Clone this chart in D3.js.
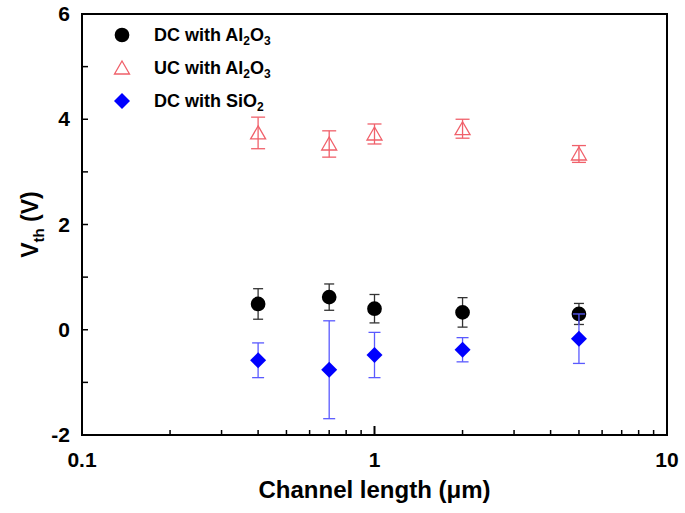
<!DOCTYPE html>
<html>
<head>
<meta charset="utf-8">
<script src="https://cdn.jsdelivr.net/npm/d3@7"></script>
<style>
  body { margin: 0; background: #fff; }
  text { font-family: "Liberation Sans", Arial, sans-serif; font-weight: bold; }
</style>
</head>
<body>
<svg id="chart" width="685" height="513"></svg>
<script>
// channel lengths (um)
var lengths = [0.4, 0.7, 1, 2, 5];

// DC with Al2O3
var dcAlVth = [0.49, 0.62, 0.40, 0.33, 0.30];
var dcAlErr = [0.29, 0.25, 0.27, 0.28, 0.20];

// UC with Al2O3
var ucAlVth = [3.74, 3.53, 3.72, 3.82, 3.34];
var ucAlErr = [0.30, 0.25, 0.19, 0.18, 0.16];

// DC with SiO2
var dcSiVth = [-0.58, -0.76, -0.48, -0.38, -0.17];
var dcSiErr = [0.33, 0.93, 0.43, 0.23, 0.47];

var yTicks = [-2, 0, 2, 4, 6];
var xTicks = [0.1, 1, 10];

var svg = d3.select('#chart');
var margin = {left: 82, top: 14, right: 18, bottom: 78};
var width = 685 - margin.left - margin.right,
    height = 513 - margin.top - margin.bottom;

var x = d3.scaleLog().domain([0.1, 10]).range([0, width]);
var y = d3.scaleLinear().domain([-2, 6]).range([height, 0]);

var g = svg.append('g').attr('transform', 'translate(' + margin.left + ',' + margin.top + ')');

// minor ticks on x (log)
var xMinor = [];
[0.1, 1].forEach(function(dec) {
  for (var k = 2; k <= 9; k++) xMinor.push(dec * k);
});
g.selectAll('.xminor').data(xMinor).enter().append('line')
  .attr('x1', d => x(d)).attr('x2', d => x(d))
  .attr('y1', height).attr('y2', height - 5)
  .attr('stroke', '#000').attr('stroke-width', 1.5);
g.selectAll('.xmajor').data(xTicks).enter().append('line')
  .attr('x1', d => x(d)).attr('x2', d => x(d))
  .attr('y1', height).attr('y2', height - 9)
  .attr('stroke', '#000').attr('stroke-width', 2);
g.selectAll('.xlab').data(xTicks).enter().append('text')
  .attr('x', d => x(d)).attr('y', height + 32)
  .attr('text-anchor', 'middle').attr('font-size', 21)
  .text(d => d3.format('~g')(d));

// y ticks
var yMinor = [-1, 1, 3, 5];
g.selectAll('.yminor').data(yMinor).enter().append('line')
  .attr('x1', 0).attr('x2', 6)
  .attr('y1', d => y(d)).attr('y2', d => y(d))
  .attr('stroke', '#000').attr('stroke-width', 1.5);
g.selectAll('.ymajor').data(yTicks).enter().append('line')
  .attr('x1', 0).attr('x2', 6)
  .attr('y1', d => y(d)).attr('y2', d => y(d))
  .attr('stroke', '#000').attr('stroke-width', 1.5);
g.selectAll('.ylab').data(yTicks).enter().append('text')
  .attr('x', -12).attr('y', d => y(d) + 7)
  .attr('text-anchor', 'end').attr('font-size', 21)
  .text(d => d);

// frame
g.append('rect').attr('x', 0).attr('y', 0).attr('width', width).attr('height', height)
  .attr('fill', 'none').attr('stroke', '#000').attr('stroke-width', 2);

// axis titles
var yt = svg.append('text')
  .attr('transform', 'translate(38,' + (margin.top + y(2)) + ') rotate(-90)')
  .attr('text-anchor', 'middle').attr('font-size', 23);
yt.append('tspan').text('V');
yt.append('tspan').attr('font-size', 15).attr('dy', 6).text('th');
yt.append('tspan').attr('dy', -6).text(' (V)');

svg.append('text')
  .attr('x', margin.left + x(1)).attr('y', 498)
  .attr('text-anchor', 'middle').attr('font-size', 24)
  .text('Channel length (\u03bcm)');

// series
var series = [
  {vals: dcAlVth, errs: dcAlErr, shape: 'circle', fill: '#000', stroke: 'none', err: '#333', cap: 5},
  {vals: ucAlVth, errs: ucAlErr, shape: 'triangle', fill: 'none', stroke: '#f0606a', err: '#f0606a', cap: 7},
  {vals: dcSiVth, errs: dcSiErr, shape: 'diamond', fill: '#0000ff', stroke: 'none', err: '#5a5aff', cap: 6}
];

function symbolPath(shape) {
  if (shape === 'circle') return d3.symbol().type(d3.symbolCircle).size(170)();
  if (shape === 'triangle') return 'M0,-7L7.5,6L-7.5,6Z';
  return 'M0,-8L8,0L0,8L-8,0Z';
}

series.forEach(function(s) {
  var pts = lengths.map(function(l, i) { return {x: l, v: s.vals[i], e: s.errs[i]}; });
  var eg = g.append('g').attr('stroke', s.err).attr('stroke-width', 1.3);
  pts.forEach(function(p) {
    var cx = x(p.x);
    eg.append('line').attr('x1', cx).attr('x2', cx).attr('y1', y(p.v + p.e)).attr('y2', y(p.v - p.e));
    eg.append('line').attr('x1', cx - s.cap).attr('x2', cx + s.cap).attr('y1', y(p.v + p.e)).attr('y2', y(p.v + p.e));
    eg.append('line').attr('x1', cx - s.cap).attr('x2', cx + s.cap).attr('y1', y(p.v - p.e)).attr('y2', y(p.v - p.e));
  });
  g.append('g').selectAll('path').data(pts).enter().append('path')
    .attr('d', symbolPath(s.shape))
    .attr('transform', d => 'translate(' + x(d.x) + ',' + y(d.v) + ')')
    .attr('fill', s.fill).attr('stroke', s.stroke).attr('stroke-width', 1.3);
});

// legend
var legend = [
  {shape: 'circle', fill: '#000', stroke: 'none', main: 'DC with Al', sub1: '2', mid: 'O', sub2: '3'},
  {shape: 'triangle', fill: 'none', stroke: '#f0606a', main: 'UC with Al', sub1: '2', mid: 'O', sub2: '3'},
  {shape: 'diamond', fill: '#0000ff', stroke: 'none', main: 'DC with SiO', sub1: '2', mid: '', sub2: ''}
];
var lg = svg.append('g').selectAll('g').data(legend).enter().append('g')
  .attr('transform', (d, i) => 'translate(122,' + (35 + i * 33) + ')');
lg.append('path').attr('d', d => symbolPath(d.shape))
  .attr('fill', d => d.fill).attr('stroke', d => d.stroke).attr('stroke-width', 1.3);
var lt = lg.append('text').attr('x', 32).attr('y', 6).attr('font-size', 18);
lt.append('tspan').text(d => d.main);
lt.append('tspan').attr('font-size', 12).attr('dy', 4).text(d => d.sub1);
lt.append('tspan').attr('dy', -4).text(d => d.mid);
lt.append('tspan').attr('font-size', 12).attr('dy', 4).text(d => d.sub2);
</script>
</body>
</html>
